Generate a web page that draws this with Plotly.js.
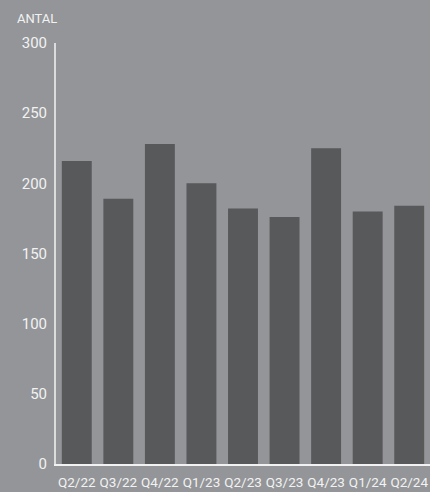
<!DOCTYPE html>
<html><head><meta charset="utf-8">
<script src="https://cdn.plot.ly/plotly-3.0.1.min.js"></script>
<style>html,body{margin:0;padding:0;background:#939598;}</style>
</head><body>
<div id="chart" style="width:430px;height:492px;"></div>
<script>
const categories = ["Q2/22","Q3/22","Q4/22","Q1/23","Q2/23","Q3/23","Q4/23","Q1/24","Q2/24"];
const antal = [216, 189, 228, 200, 182, 176, 225, 180, 184];
const yTicks = [0, 50, 100, 150, 200, 250, 300];

const trace = {
  type: 'bar', x: categories, y: antal,
  marker: {color: '#58595b', line: {width: 0}},
  hoverinfo: 'none'
};
const layout = {
  width: 430, height: 492,
  paper_bgcolor: '#939598', plot_bgcolor: '#939598',
  margin: {l: 56, r: 0, t: 43, b: 28, pad: 0},
  bargap: 0.28,
  font: {family: 'Roboto, sans-serif', color: '#f2f2f2'},
  showlegend: false,
  xaxis: {
    type: 'category', showgrid: false, zeroline: false,
    showline: true, linecolor: '#f2f2f2', linewidth: 2,
    ticks: '', tickfont: {size: 13.5, color: '#f2f2f2'}, ticklabelstandoff: 5
  },
  yaxis: {
    range: [0, 300], tickvals: yTicks, showgrid: false, zeroline: false,
    showline: true, linecolor: '#dcdcdc', linewidth: 2,
    ticks: '', tickfont: {size: 15, color: '#f2f2f2'}, ticklabelstandoff: 4
  },
  annotations: [{
    text: 'ANTAL', xref: 'paper', yref: 'paper', x: -0.11, y: 1.035,
    xanchor: 'left', yanchor: 'bottom', showarrow: false,
    font: {size: 13, color: '#f2f2f2'}
  }]
};
Plotly.newPlot('chart', [trace], layout, {displayModeBar: false, staticPlot: true});
</script>
</body></html>
